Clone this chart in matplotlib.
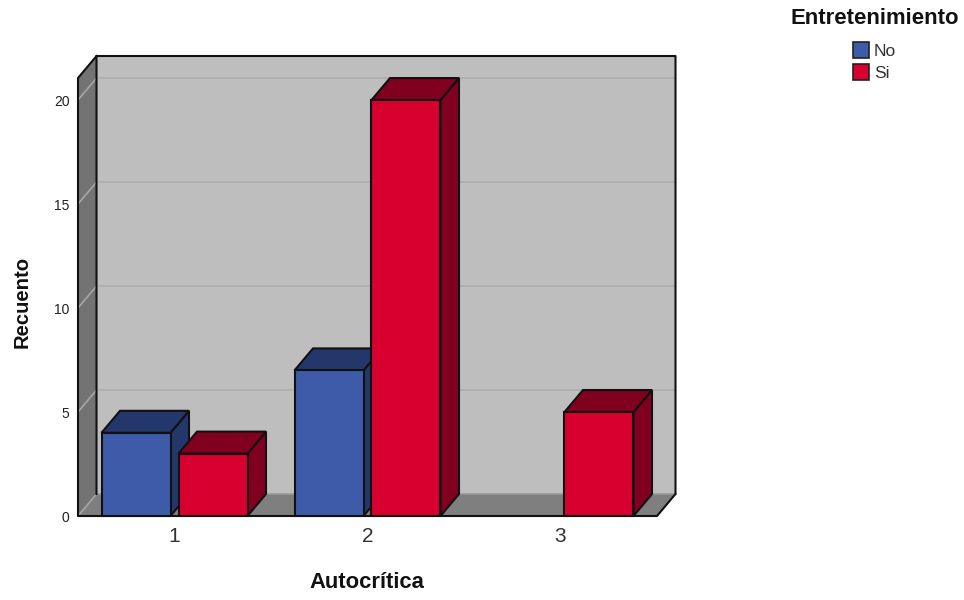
import matplotlib
matplotlib.use("Agg")
import matplotlib.pyplot as plt
from matplotlib.patches import Polygon, Rectangle

plt.rcParams['font.family'] = ['Liberation Sans', 'DejaVu Sans']

categories = ['1', '2', '3']
no_counts = [4, 7, 0]
si_counts = [3, 20, 5]
y_ticks = [0, 5, 10, 15, 20]
series_names = ['No', 'Si']
x_title = 'Autocrítica'
y_title = 'Recuento'
legend_title = 'Entretenimiento'

W, H = 964, 600
fig = plt.figure(figsize=(W / 100, H / 100), dpi=100)
ax = fig.add_axes([78 / W, 1 - 516 / H, 579 / W, 438 / H])
XMIN, XMAX = 0.5, 3.5
YMIN, YMAX = 0, 21.06
ax.set_xlim(XMIN, XMAX)
ax.set_ylim(YMIN, YMAX)
for s in ax.spines.values():
    s.set_visible(False)

# 3D depth offset of the box, in data units
DX = 18.5 / 193
DY = 22 / 20.8
BAR_W = 69 / 193
OFFSET = 38.5 / 193

EDGE = '#111111'
BLUE = ('#3E5BA9', '#24376B')
RED = ('#D7002E', '#82001F')


def poly(points, face, edge=EDGE, lw=1.5, z=2):
    ax.add_patch(Polygon(points, closed=True, facecolor=face, edgecolor=edge,
                         linewidth=lw, joinstyle='miter', clip_on=False, zorder=z))


def seg(xs, ys, color=EDGE, lw=1.5, z=1.6):
    ax.plot(xs, ys, color=color, lw=lw, clip_on=False, zorder=z, solid_capstyle='projecting')


# back wall, left wall and floor of the box
poly([(XMIN + DX, DY), (XMAX + DX, DY), (XMAX + DX, YMAX + DY), (XMIN + DX, YMAX + DY)], '#BEBEBE', edge='none', z=1)
poly([(XMIN, 0), (XMIN + DX, DY), (XMIN + DX, YMAX + DY), (XMIN, YMAX)], '#737373', edge='none', z=1)
poly([(XMIN, 0), (XMAX, 0), (XMAX + DX, DY), (XMIN + DX, DY)], '#7F7F7F', edge='none', z=1)

# gridlines run along the back wall and fold down the left wall
for t in y_ticks[1:]:
    ax.plot([XMIN + DX, XMAX + DX], [t + DY, t + DY], color='#AEAEAE', lw=1.3,
            clip_on=False, zorder=1.5, solid_capstyle='butt')
    ax.plot([XMIN, XMIN + DX], [t, t + DY], color='#A6A6A6', lw=1.2,
            clip_on=False, zorder=1.5, solid_capstyle='butt')

# the floor's rear and left edges are soft grey
seg([XMIN + DX, XMAX + DX], [DY, DY], color='#9A9A9A', lw=1.2, z=1.5)
seg([XMIN, XMIN + DX], [0, DY], color='#A6A6A6', lw=1.2, z=1.5)

# remaining box edges are dark
seg([XMIN + DX, XMIN + DX, XMAX + DX, XMAX + DX, XMAX, XMIN, XMIN, XMIN + DX],
    [DY, YMAX + DY, YMAX + DY, DY, 0, 0, YMAX, YMAX + DY])


def bar3d(x0, value, colors, z):
    if value <= 0:
        return
    x1 = x0 + BAR_W
    poly([(x1, 0), (x1 + DX, DY), (x1 + DX, value + DY), (x1, value)], colors[1], z=z)
    poly([(x0, value), (x1, value), (x1 + DX, value + DY), (x0 + DX, value + DY)], colors[1], z=z)
    poly([(x0, 0), (x1, 0), (x1, value), (x0, value)], colors[0], z=z)


for i, (n, s) in enumerate(zip(no_counts, si_counts)):
    cx = i + 1
    bar3d(cx - OFFSET - BAR_W / 2, n, BLUE, 3 + i)
    bar3d(cx + OFFSET - BAR_W / 2, s, RED, 3.5 + i)

ax.set_xticks([1, 2, 3], categories)
ax.set_yticks(y_ticks, [str(t) for t in y_ticks])
ax.tick_params(axis='x', length=0, pad=8, labelsize=15, labelcolor='#333333')
ax.tick_params(axis='y', length=0, pad=6, labelsize=10, labelcolor='#222222')

fig.text(367 / W, 1 - 582 / H, x_title, ha='center', va='center', fontsize=15.8, fontweight='bold', color='#111111')
fig.text(22 / W, 1 - 301.5 / H, y_title, ha='center', va='center', rotation=90, fontsize=14.6, fontweight='bold', color='#111111')

# legend
fig.text(874.5 / W, 1 - 18 / H, legend_title, ha='center', va='center', fontsize=15.9, fontweight='bold', color='#111111')
for name, col, yc, ty in zip(series_names, (BLUE[0], RED[0]), (50, 72), (51, 74)):
    fig.add_artist(Rectangle((853 / W, 1 - (yc + 8) / H), 16 / W, 16 / H, transform=fig.transFigure,
                             facecolor=col, edgecolor='#222222', linewidth=1.2))
    fig.text(874 / W, 1 - ty / H, name, ha='left', va='center', fontsize=12.5, color='#333333')

fig.savefig('out.png', dpi=100)
